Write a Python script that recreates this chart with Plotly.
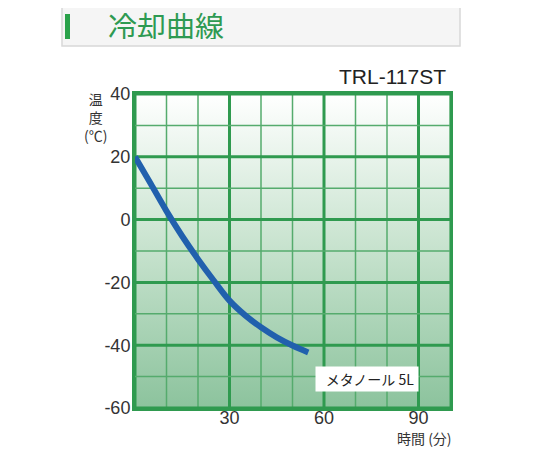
import plotly.graph_objects as go

# cooling curve (minutes, deg C)
minutes = [0, 5, 10, 15, 20, 25, 30, 35, 40, 45, 50, 55]
temps = [20, 11.4, 2.7, -5.3, -12.6, -19.4, -25.8, -30.5, -34.3, -37.5, -40.1, -42.3]

x_ticks = [30, 60, 90]
y_ticks = [40, 20, 0, -20, -40, -60]
x_range = [0, 100]
y_range = [-60, 40]

model_name = "TRL-117ST"
series_label = "メタノール 5L"
chart_title = "冷却曲線"

GREEN = "#2f9a4f"
MINOR_GREEN = "#55ab6d"
FONT = "Noto Sans CJK JP"
NUM_FONT = "Liberation Sans"

# the page adds an 8px body margin, so everything is laid out 8px up/left
OFF = 8
W, H = 540, 450
L, R, T, B = 135 - OFF, 540 - 450 + OFF, 94 - OFF, 450 - 408 + OFF


def px(x):
    return (x - OFF - L) / (W - L - R)


def py(y):
    return (H - B - (y - OFF)) / (H - T - B)


def grid_xy(values, vertical):
    xs, ys = [], []
    for v in values:
        if vertical:
            xs += [v, v, None]
            ys += [y_range[0], y_range[1], None]
        else:
            xs += [x_range[0], x_range[1], None]
            ys += [v, v, None]
    return xs, ys


x_major = list(range(x_range[0], x_range[1] + 1, 30))
x_minor = [v for v in range(x_range[0], x_range[1] + 1, 10) if v not in x_major]
y_major = list(range(y_range[0], y_range[1] + 1, 20))
y_minor = [v for v in range(y_range[0], y_range[1] + 1, 10) if v not in y_major]

fig = go.Figure()

# gradient background for the plot area
fig.add_trace(
    go.Scatter(
        x=[x_range[0], x_range[1], x_range[1], x_range[0], x_range[0]],
        y=[y_range[0], y_range[0], y_range[1], y_range[1], y_range[0]],
        mode="lines",
        line=dict(width=0),
        fill="toself",
        fillgradient=dict(
            type="vertical",
            colorscale=[[0, "#8cc39d"], [0.5, "#c6e2cd"], [1, "#ffffff"]],
        ),
        hoverinfo="skip",
        showlegend=False,
    )
)

# grid drawn over the gradient, under the curve
for vals, color, width in [(x_minor, MINOR_GREEN, 1.5), (x_major, GREEN, 3)]:
    gx, gy = grid_xy(vals, True)
    fig.add_trace(go.Scatter(x=gx, y=gy, mode="lines", line=dict(color=color, width=width),
                             hoverinfo="skip", showlegend=False))
for vals, color, width in [(y_minor, MINOR_GREEN, 1.5), (y_major, GREEN, 3)]:
    gx, gy = grid_xy(vals, False)
    fig.add_trace(go.Scatter(x=gx, y=gy, mode="lines", line=dict(color=color, width=width),
                             hoverinfo="skip", showlegend=False))

fig.add_trace(
    go.Scatter(
        x=minutes,
        y=temps,
        mode="lines",
        line=dict(color="#2160ad", width=6, shape="spline"),
        showlegend=False,
    )
)

fig.add_annotation(
    x=73.7, y=-50.8, xref="x", yref="y",
    xanchor="center", yanchor="middle",
    text=series_label + " ", showarrow=False, align="right",
    bgcolor="white", width=100, height=22, borderpad=1,
    font=dict(family=FONT, size=14, color="#222"),
)

fig.add_annotation(
    x=px(448), y=py(76), xref="paper", yref="paper",
    xanchor="right", yanchor="middle",
    text=model_name, showarrow=False,
    font=dict(family=NUM_FONT, size=21, color="#222"),
)

# y axis title, stacked vertically
fig.add_annotation(
    x=px(95), y=py(117), xref="paper", yref="paper",
    xanchor="center", yanchor="middle",
    text="温<br>度<br>(℃)", showarrow=False,
    font=dict(family=FONT, size=14, color="#333"),
)

fig.add_annotation(
    x=px(424), y=py(438), xref="paper", yref="paper",
    xanchor="center", yanchor="middle",
    text="時間 (分)", showarrow=False, borderpad=0,
    font=dict(family=FONT, size=14, color="#333"),
)

# header bar
fig.add_shape(
    type="rect", xref="paper", yref="paper",
    x0=px(62), x1=px(460), y0=py(46), y1=py(5),
    line=dict(color="#d8d8d8", width=1.5),
    fillcolor="#f5f5f5", layer="below",
)
fig.add_shape(
    type="rect", xref="paper", yref="paper",
    x0=px(65), x1=px(70), y0=py(39), y1=py(14),
    line=dict(width=0), fillcolor="#2aa24a",
)
fig.add_annotation(
    x=px(107), y=py(25), xref="paper", yref="paper",
    xanchor="left", yanchor="middle",
    text=chart_title, showarrow=False, height=28, borderpad=0,
    font=dict(family=FONT, size=29, color="#2e9a52"),
)

axis_common = dict(
    showgrid=False, zeroline=False,
    showline=True, linecolor=GREEN, linewidth=3, mirror=True,
    tickfont=dict(family=NUM_FONT, size=18, color="#333"),
    ticks="", ticklen=0,
)

fig.update_layout(
    width=W, height=H,
    margin=dict(l=L, r=R, t=T, b=B),
    paper_bgcolor="white",
    plot_bgcolor="white",
    xaxis=dict(range=x_range, tickvals=x_ticks, ticklabelstandoff=-9, **axis_common),
    yaxis=dict(range=y_range, tickvals=y_ticks, ticktext=[str(v) for v in y_ticks],
               ticklabelstandoff=-2, **axis_common),
)

fig.write_html("out.html")
